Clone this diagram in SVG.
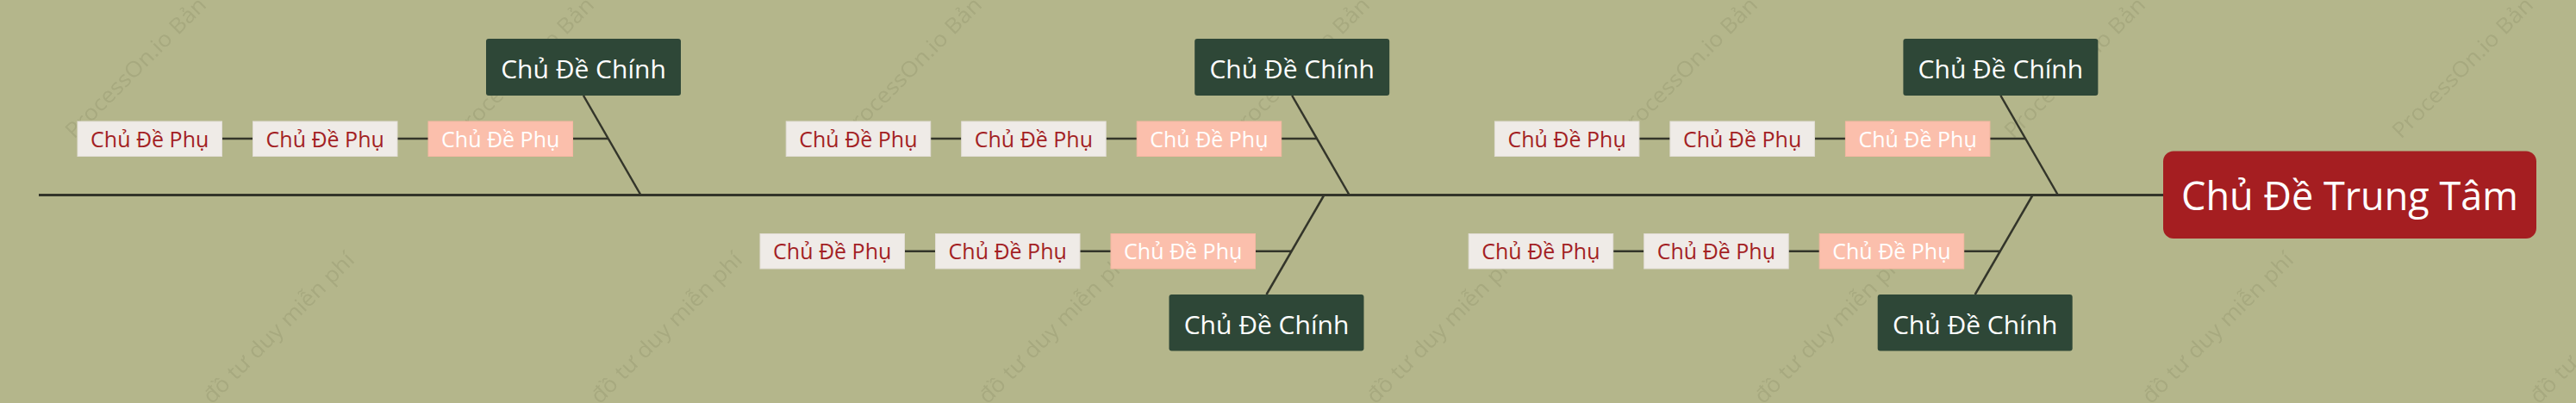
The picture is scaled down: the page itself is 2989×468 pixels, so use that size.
<svg xmlns="http://www.w3.org/2000/svg" width="2989" height="468" viewBox="0 0 2989 468">
<style>
.bg{fill:#b4b68b}
.wm{font-family:"Open Sans","Noto Sans",sans-serif;font-size:25px;fill:#a7a97f}
.ln{stroke:#33352a;stroke-width:2.5;fill:none;stroke-linecap:butt}
.spine{stroke:#33352a;stroke-width:2.8;fill:none}
.main rect{fill:#2e4737}
.main text{font-family:"Open Sans","Noto Sans",sans-serif;font-size:30px;fill:#ffffff;text-anchor:middle}
.sub rect{fill:#efebe7;stroke:#e2ddd6;stroke-width:1}
.sub text{font-family:"Open Sans","Noto Sans",sans-serif;font-size:25px;fill:#a31f24;text-anchor:middle}
.sub.hl rect{fill:#fbbfac;stroke:#f6b7a2}
.sub.hl text{fill:#ffffff}
.center rect{fill:#a51e21}
.center text{font-family:"Open Sans","Noto Sans",sans-serif;font-size:45px;fill:#ffffff;text-anchor:middle}
</style>
<defs>
<pattern id="wmp" x="0" y="0" width="450" height="468" patternUnits="userSpaceOnUse">
<text class="wm" transform="translate(86,162) rotate(-45)" textLength="462" lengthAdjust="spacingAndGlyphs">ProcessOn.io Bản đồ tư duy miễn phí</text>
<text class="wm" transform="translate(86,630) rotate(-45)" textLength="462" lengthAdjust="spacingAndGlyphs">ProcessOn.io Bản đồ tư duy miễn phí</text>
</pattern>
</defs>
<rect class="bg" x="0" y="0" width="2989" height="468"/>
<rect x="0" y="0" width="2989" height="468" fill="url(#wmp)"/>

<g id="connectors">
<line class="spine" x1="45" y1="226.5" x2="2511" y2="226.5"/>
<!-- zone 1 top -->
<line class="ln" x1="677" y1="111" x2="743.5" y2="226.5"/>
<line class="ln" x1="257.5" y1="161" x2="293.5" y2="161"/>
<line class="ln" x1="461" y1="161" x2="497" y2="161"/>
<line class="ln" x1="664.5" y1="161" x2="706" y2="161"/>
<!-- zone 2 top -->
<line class="ln" x1="1499.2" y1="111" x2="1565.7" y2="226.5"/>
<line class="ln" x1="1079.7" y1="161" x2="1115.7" y2="161"/>
<line class="ln" x1="1283.2" y1="161" x2="1319.2" y2="161"/>
<line class="ln" x1="1486.7" y1="161" x2="1528.2" y2="161"/>
<!-- zone 2 bottom -->
<line class="ln" x1="1536.4" y1="226.5" x2="1469.5" y2="342"/>
<line class="ln" x1="1049.5" y1="291.7" x2="1085.5" y2="291.7"/>
<line class="ln" x1="1253" y1="291.7" x2="1289" y2="291.7"/>
<line class="ln" x1="1456.5" y1="291.7" x2="1498.9" y2="291.7"/>
<!-- zone 3 top -->
<line class="ln" x1="2321.4" y1="111" x2="2387.9" y2="226.5"/>
<line class="ln" x1="1901.9" y1="161" x2="1937.9" y2="161"/>
<line class="ln" x1="2105.4" y1="161" x2="2141.4" y2="161"/>
<line class="ln" x1="2308.9" y1="161" x2="2350.4" y2="161"/>
<!-- zone 3 bottom -->
<line class="ln" x1="2358.6" y1="226.5" x2="2291.7" y2="342"/>
<line class="ln" x1="1871.7" y1="291.7" x2="1907.7" y2="291.7"/>
<line class="ln" x1="2075.2" y1="291.7" x2="2111.2" y2="291.7"/>
<line class="ln" x1="2278.7" y1="291.7" x2="2321.1" y2="291.7"/>
</g>

<g id="center" class="center">
<rect x="2510" y="175.5" width="433" height="101.5" rx="12" ry="12"/>
<text x="2726.5" y="244">Chủ Đề Trung Tâm</text>
</g>

<g id="main-1" class="main"><rect x="564" y="45" width="226" height="66" rx="3"/><text x="677" y="90.7">Chủ Đề Chính</text></g>
<g id="main-2" class="main"><rect x="1386.2" y="45" width="226" height="66" rx="3"/><text x="1499.2" y="90.7">Chủ Đề Chính</text></g>
<g id="main-3" class="main"><rect x="2208.4" y="45" width="226" height="66" rx="3"/><text x="2321.4" y="90.7">Chủ Đề Chính</text></g>
<g id="main-4" class="main"><rect x="1356.5" y="342" width="226" height="65.5" rx="3"/><text x="1469.5" y="387.5">Chủ Đề Chính</text></g>
<g id="main-5" class="main"><rect x="2178.7" y="342" width="226" height="65.5" rx="3"/><text x="2291.7" y="387.5">Chủ Đề Chính</text></g>

<g id="sub-1a" class="sub"><rect x="90" y="141" width="167.5" height="40.5"/><text x="173.7" y="170.5">Chủ Đề Phụ</text></g>
<g id="sub-1b" class="sub"><rect x="293.5" y="141" width="167.5" height="40.5"/><text x="377.2" y="170.5">Chủ Đề Phụ</text></g>
<g id="sub-1c" class="sub hl"><rect x="497" y="141" width="167.5" height="40.5"/><text x="580.7" y="170.5">Chủ Đề Phụ</text></g>

<g id="sub-2a" class="sub"><rect x="912.2" y="141" width="167.5" height="40.5"/><text x="995.9" y="170.5">Chủ Đề Phụ</text></g>
<g id="sub-2b" class="sub"><rect x="1115.7" y="141" width="167.5" height="40.5"/><text x="1199.4" y="170.5">Chủ Đề Phụ</text></g>
<g id="sub-2c" class="sub hl"><rect x="1319.2" y="141" width="167.5" height="40.5"/><text x="1402.9" y="170.5">Chủ Đề Phụ</text></g>

<g id="sub-3a" class="sub"><rect x="1734.4" y="141" width="167.5" height="40.5"/><text x="1818.1" y="170.5">Chủ Đề Phụ</text></g>
<g id="sub-3b" class="sub"><rect x="1937.9" y="141" width="167.5" height="40.5"/><text x="2021.6" y="170.5">Chủ Đề Phụ</text></g>
<g id="sub-3c" class="sub hl"><rect x="2141.4" y="141" width="167.5" height="40.5"/><text x="2225.1" y="170.5">Chủ Đề Phụ</text></g>

<g id="sub-4a" class="sub"><rect x="882" y="271.5" width="167.5" height="40.5"/><text x="965.7" y="301.2">Chủ Đề Phụ</text></g>
<g id="sub-4b" class="sub"><rect x="1085.5" y="271.5" width="167.5" height="40.5"/><text x="1169.2" y="301.2">Chủ Đề Phụ</text></g>
<g id="sub-4c" class="sub hl"><rect x="1289" y="271.5" width="167.5" height="40.5"/><text x="1372.7" y="301.2">Chủ Đề Phụ</text></g>

<g id="sub-5a" class="sub"><rect x="1704.2" y="271.5" width="167.5" height="40.5"/><text x="1787.9" y="301.2">Chủ Đề Phụ</text></g>
<g id="sub-5b" class="sub"><rect x="1907.7" y="271.5" width="167.5" height="40.5"/><text x="1991.4" y="301.2">Chủ Đề Phụ</text></g>
<g id="sub-5c" class="sub hl"><rect x="2111.2" y="271.5" width="167.5" height="40.5"/><text x="2194.9" y="301.2">Chủ Đề Phụ</text></g>
</svg>
